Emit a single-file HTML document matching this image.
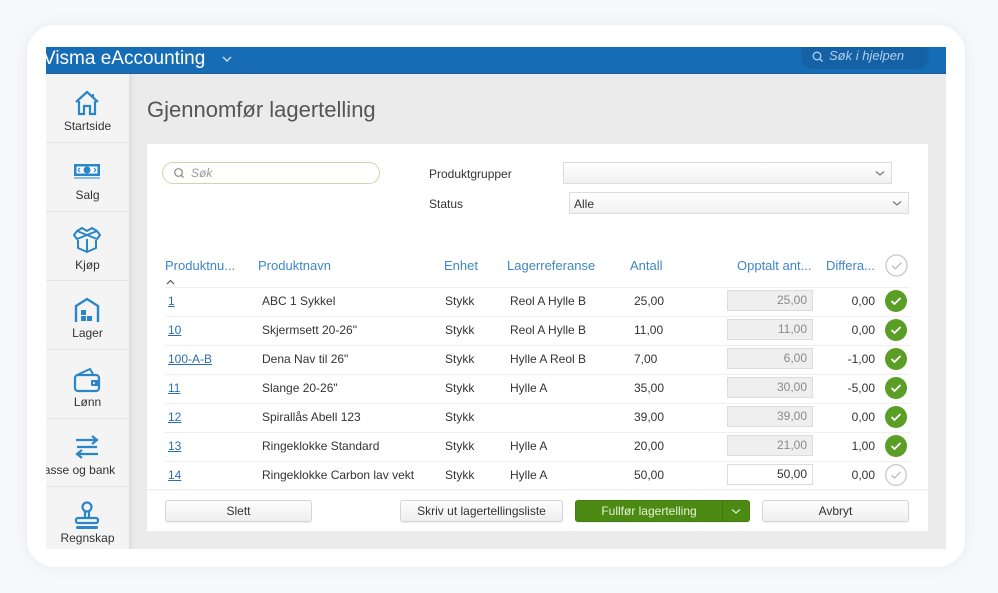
<!DOCTYPE html>
<html><head><meta charset="utf-8">
<style>
*{margin:0;padding:0;box-sizing:border-box}
body{width:998px;height:593px;background:#f6f8fb;font-family:"Liberation Sans",Arial,sans-serif;position:relative;overflow:hidden;color:#333}
.abs{position:absolute}
.card{left:27px;top:25px;width:938px;height:542px;background:#fff;border-radius:28px;box-shadow:0 0 12px rgba(200,210,225,.35)}
.app{left:46px;top:47px;width:900px;height:502px;background:#ebebeb;overflow:hidden}
.topbar{left:0;top:0;width:900px;height:27px;background:#176db5;border-bottom:1px solid #1a5f99}
.brand{left:-3px;top:1px;font-size:19px;color:#fff;white-space:nowrap}
.side{left:0;top:27px;width:83px;height:475px;background:#f4f4f4;overflow:hidden}
.sideshadow{left:83px;top:27px;width:6px;height:475px;background:linear-gradient(to right,#dedede,#ebebeb)}
.si{position:absolute;left:0;width:83px;height:69px;border-bottom:1px solid #e4e4e4}
.si .lb{position:absolute;left:-20px;width:123px;text-align:center;font-size:12px;color:#333;white-space:nowrap}
.si svg{position:absolute;left:27px}
.t{position:absolute;font-size:12px;white-space:nowrap;color:#333}
.h{color:#3f86c5;font-size:13px}
.lnk{color:#2c6fb0;text-decoration:underline}
.sep{position:absolute;left:165px;width:745px;height:1px;background:#efefef}
.inp{position:absolute;left:727px;width:86px;height:21px;background:#efefef;border:1px solid #dcdcdc;font-size:12px;color:#8a8a8a;text-align:right;padding-right:5px;line-height:19px}
.dif{position:absolute;left:820px;width:55px;text-align:right;font-size:12px;color:#333}
.btn{position:absolute;top:500px;height:22px;border:1px solid #d6d6d6;border-radius:3px;background:linear-gradient(#fdfdfd,#efefef);font-size:12px;color:#333;text-align:center;line-height:20px;box-shadow:0 1px 1px rgba(0,0,0,.08)}
</style></head><body>
<div class="abs card"></div>
<div class="abs app">
  <div class="abs topbar">
    <div class="abs brand">Visma eAccounting</div>
    <svg class="abs" style="left:176px;top:8px" width="10" height="8"><path d="M1 2 L5 6 L9 2" stroke="#cfe0f2" stroke-width="1.4" fill="none"/></svg>
    <div class="abs" style="left:197px;top:0;width:1px;height:27px;background:#1f66a6"></div>
    <div class="abs" style="left:755px;top:-4px;width:128px;height:26px;border-radius:12px;background:#1461a6"></div>
    <svg class="abs" style="left:766px;top:4px" width="12" height="12"><circle cx="5" cy="5" r="3.8" stroke="#b3cde8" stroke-width="1.3" fill="none"/><path d="M8 8 L10.5 10.5" stroke="#b3cde8" stroke-width="1.4"/></svg>
    <div class="abs" style="left:783px;top:1px;font-size:13px;font-style:italic;color:#b3cde8">Søk i hjelpen</div>
  </div>
  <div class="abs side">
    <div class="si" style="top:0">
      <svg style="top:15px" width="28" height="28" viewBox="0 0 28 28"><path d="M3 13 L14 3 L25 13" stroke="#2a86c9" stroke-width="2.2" fill="none"/><path d="M20 5 V9" stroke="#2a86c9" stroke-width="2"/><path d="M6 12 V25 H11 V17 H17 V25 H22 V12" stroke="#2a86c9" stroke-width="2.2" fill="none"/></svg>
      <div class="lb" style="top:45px">Startside</div>
    </div>
    <div class="si" style="top:69px">
      <svg style="top:20px" width="28" height="16" viewBox="0 0 28 16"><rect x="1" y="1" width="26" height="12" fill="#2a86c9"/><rect x="3.5" y="3.5" width="21" height="7" fill="#fff"/><circle cx="14" cy="7" r="3.5" fill="#2a86c9"/><path d="M5 7 L7 5 M5 7 L7 9 M23 7 L21 5 M23 7 L21 9" stroke="#2a86c9" stroke-width="1.2"/><rect x="1" y="14" width="26" height="2" fill="#8cc0e6"/></svg>
      <div class="lb" style="top:45px">Salg</div>
    </div>
    <div class="si" style="top:138px">
      <svg style="top:14px" width="28" height="28" viewBox="0 0 28 28"><path d="M14 9 L4 5 L9 2 L14 5 L19 2 L24 5 L14 9 Z" stroke="#2a86c9" stroke-width="2" fill="none" stroke-linejoin="round"/><path d="M14 9 L4 13 L1 9 L4 5 M14 9 L24 13 L27 9 L24 5" stroke="#2a86c9" stroke-width="2" fill="none" stroke-linejoin="round"/><path d="M5 14 V22 L14 26 L23 22 V14 M14 13 V26" stroke="#2a86c9" stroke-width="2" fill="none" stroke-linejoin="round"/></svg>
      <div class="lb" style="top:46px">Kjøp</div>
    </div>
    <div class="si" style="top:207px">
      <svg style="top:15px" width="28" height="28" viewBox="0 0 28 28"><path d="M3 26 V10 L14 3 L25 10 V26" stroke="#2a86c9" stroke-width="2.4" fill="none"/><rect x="8" y="14" width="5" height="5" fill="#2a86c9"/><rect x="8" y="20" width="5" height="5" fill="#2a86c9"/><rect x="14" y="20" width="5" height="5" fill="#2a86c9"/></svg>
      <div class="lb" style="top:45px">Lager</div>
    </div>
    <div class="si" style="top:276px">
      <svg style="top:17px" width="28" height="26" viewBox="0 0 28 26"><path d="M4 8 L17 2 L20 7" stroke="#2a86c9" stroke-width="2" fill="none"/><rect x="2" y="8" width="24" height="16" rx="3" stroke="#2a86c9" stroke-width="2.2" fill="none"/><rect x="18" y="13" width="8" height="6" rx="1" fill="#2a86c9"/><circle cx="21" cy="16" r="1" fill="#fff"/></svg>
      <div class="lb" style="top:45px">Lønn</div>
    </div>
    <div class="si" style="top:344px">
      <svg style="top:17px" width="28" height="24" viewBox="0 0 28 24"><path d="M3 5 H24 M19 1 L24 5 L19 9 M4 12 H24 M25 19 H4 M9 15 L4 19 L9 23" stroke="#2a86c9" stroke-width="2.2" fill="none"/></svg>
      <div class="lb" style="top:45px;left:-32px">Kasse og bank</div>
    </div>
    <div class="si" style="top:413px;border:none">
      <svg style="top:14px" width="28" height="30" viewBox="0 0 28 30"><circle cx="14" cy="6" r="4.5" stroke="#2a86c9" stroke-width="2.2" fill="none"/><path d="M12 10 V17 M16 10 V17" stroke="#2a86c9" stroke-width="2.2"/><rect x="3" y="17" width="22" height="5" rx="2" stroke="#2a86c9" stroke-width="2.2" fill="none"/><rect x="3" y="25" width="22" height="3" rx="1.5" fill="#2a86c9"/></svg>
      <div class="lb" style="top:44px">Regnskap</div>
    </div>
  </div>
  <div class="abs sideshadow"></div>
  <div class="abs" style="left:101px;top:50px;font-size:22px;color:#555;white-space:nowrap">Gjennomfør lagertelling</div>
  <div class="abs" style="left:101px;top:97px;width:781px;height:387px;background:#fff"></div>
</div>

<!-- filters -->
<div class="abs" style="left:162px;top:162px;width:218px;height:22px;border:1px solid #d6d2a6;border-radius:11px;background:#fff"></div>
<svg class="abs" style="left:173px;top:167px" width="12" height="12"><circle cx="5.5" cy="5.5" r="3.8" stroke="#888" stroke-width="1.2" fill="none"/><path d="M8.3 8.3 L10.5 10.5" stroke="#888" stroke-width="1.3"/></svg>
<div class="t" style="left:191px;top:166px;font-style:italic;color:#999">Søk</div>
<div class="t" style="left:429px;top:167px">Produktgrupper</div>
<div class="abs" style="left:563px;top:162px;width:329px;height:22px;border:1px solid #ddd;background:linear-gradient(#fff,#f1f1f1)"></div>
<svg class="abs" style="left:875px;top:170px" width="10" height="7"><path d="M1 1.5 L5 5 L9 1.5" stroke="#777" stroke-width="1.2" fill="none"/></svg>
<div class="t" style="left:429px;top:197px">Status</div>
<div class="abs" style="left:569px;top:192px;width:340px;height:22px;border:1px solid #ddd;background:linear-gradient(#fff,#f1f1f1)"></div>
<div class="t" style="left:574px;top:197px">Alle</div>
<svg class="abs" style="left:892px;top:200px" width="10" height="7"><path d="M1 1.5 L5 5 L9 1.5" stroke="#777" stroke-width="1.2" fill="none"/></svg>

<!-- table header -->
<div class="t h" style="left:165px;top:258px">Produktnu...</div>
<svg class="abs" style="left:166px;top:279px" width="9" height="6"><path d="M1 5 L4.5 1.5 L8 5" stroke="#555" stroke-width="1.2" fill="none"/></svg>
<div class="t h" style="left:258px;top:258px">Produktnavn</div>
<div class="t h" style="left:444px;top:258px">Enhet</div>
<div class="t h" style="left:507px;top:258px">Lagerreferanse</div>
<div class="t h" style="left:630px;top:258px">Antall</div>
<div class="t h" style="left:737px;top:258px">Opptalt ant...</div>
<div class="t h" style="left:826px;top:258px">Differa...</div>
<svg class="abs" style="left:885px;top:254px" width="23" height="23"><circle cx="11.5" cy="11.5" r="10.5" fill="#fff" stroke="#c8c8c8" stroke-width="1.3"/><path d="M7 11.5 L10.3 14.8 L16.5 8.5" stroke="#bbb" stroke-width="1.3" fill="none"/></svg>

<div class="sep" style="top:287px"></div>
<div class="sep" style="top:316px"></div>
<div class="sep" style="top:345px"></div>
<div class="sep" style="top:374px"></div>
<div class="sep" style="top:403px"></div>
<div class="sep" style="top:432px"></div>
<div class="sep" style="top:461px"></div>

<!-- rows -->
<div class="t lnk" style="left:168px;top:294px">1</div>
<div class="t" style="left:262px;top:294px">ABC 1 Sykkel</div>
<div class="t" style="left:445px;top:294px">Stykk</div>
<div class="t" style="left:510px;top:294px">Reol A Hylle B</div>
<div class="t" style="left:634px;top:294px">25,00</div>
<div class="inp" style="top:290px">25,00</div>
<div class="dif" style="top:294px">0,00</div>

<div class="t lnk" style="left:168px;top:323px">10</div>
<div class="t" style="left:262px;top:323px">Skjermsett 20-26"</div>
<div class="t" style="left:445px;top:323px">Stykk</div>
<div class="t" style="left:510px;top:323px">Reol A Hylle B</div>
<div class="t" style="left:634px;top:323px">11,00</div>
<div class="inp" style="top:319px">11,00</div>
<div class="dif" style="top:323px">0,00</div>

<div class="t lnk" style="left:168px;top:352px">100-A-B</div>
<div class="t" style="left:262px;top:352px">Dena Nav til 26"</div>
<div class="t" style="left:445px;top:352px">Stykk</div>
<div class="t" style="left:510px;top:352px">Hylle A Reol B</div>
<div class="t" style="left:634px;top:352px">7,00</div>
<div class="inp" style="top:348px">6,00</div>
<div class="dif" style="top:352px">-1,00</div>

<div class="t lnk" style="left:168px;top:381px">11</div>
<div class="t" style="left:262px;top:381px">Slange 20-26"</div>
<div class="t" style="left:445px;top:381px">Stykk</div>
<div class="t" style="left:510px;top:381px">Hylle A</div>
<div class="t" style="left:634px;top:381px">35,00</div>
<div class="inp" style="top:377px">30,00</div>
<div class="dif" style="top:381px">-5,00</div>

<div class="t lnk" style="left:168px;top:410px">12</div>
<div class="t" style="left:262px;top:410px">Spirallås Abell 123</div>
<div class="t" style="left:445px;top:410px">Stykk</div>
<div class="t" style="left:634px;top:410px">39,00</div>
<div class="inp" style="top:406px">39,00</div>
<div class="dif" style="top:410px">0,00</div>

<div class="t lnk" style="left:168px;top:439px">13</div>
<div class="t" style="left:262px;top:439px">Ringeklokke Standard</div>
<div class="t" style="left:445px;top:439px">Stykk</div>
<div class="t" style="left:510px;top:439px">Hylle A</div>
<div class="t" style="left:634px;top:439px">20,00</div>
<div class="inp" style="top:435px">21,00</div>
<div class="dif" style="top:439px">1,00</div>

<div class="t lnk" style="left:168px;top:468px">14</div>
<div class="t" style="left:262px;top:468px">Ringeklokke Carbon lav vekt</div>
<div class="t" style="left:445px;top:468px">Stykk</div>
<div class="t" style="left:510px;top:468px">Hylle A</div>
<div class="t" style="left:634px;top:468px">50,00</div>
<div class="inp" style="top:464px;background:#fff;color:#333">50,00</div>
<div class="dif" style="top:468px">0,00</div>

<!-- check circles -->
<svg class="abs" style="left:884px;top:289px" width="24" height="200">
  <g fill="#5a9e25">
    <circle cx="12" cy="12" r="11"/><circle cx="12" cy="41" r="11"/><circle cx="12" cy="70" r="11"/>
    <circle cx="12" cy="99" r="11"/><circle cx="12" cy="128" r="11"/><circle cx="12" cy="157" r="11"/>
  </g>
  <g stroke="#fff" stroke-width="1.8" fill="none">
    <path d="M7.5 12 L10.5 15 L16.5 9"/><path d="M7.5 41 L10.5 44 L16.5 38"/><path d="M7.5 70 L10.5 73 L16.5 67"/>
    <path d="M7.5 99 L10.5 102 L16.5 96"/><path d="M7.5 128 L10.5 131 L16.5 125"/><path d="M7.5 157 L10.5 160 L16.5 154"/>
  </g>
  <circle cx="12" cy="186" r="10.3" fill="#fff" stroke="#c8c8c8" stroke-width="1.3"/>
  <path d="M7.5 186 L10.5 189 L16.5 183" stroke="#bbb" stroke-width="1.3" fill="none"/>
</svg>

<!-- footer -->
<div class="abs" style="left:147px;top:489px;width:781px;height:2px;background:linear-gradient(#e8e8e8,#fff)"></div>
<div class="btn" style="left:165px;width:147px">Slett</div>
<div class="btn" style="left:400px;width:163px">Skriv ut lagertellingsliste</div>
<div class="btn" style="left:575px;width:175px;background:#4d8a13;border-color:#457d10;color:#e6f2d6">
  <span style="position:absolute;left:0;width:146px;text-align:center">Fullfør lagertelling</span>
  <span style="position:absolute;left:146px;top:0;width:1px;height:20px;background:#3f750d"></span>
  <svg style="position:absolute;left:155px;top:7px" width="10" height="7"><path d="M1 1.5 L5 5 L9 1.5" stroke="#d8ecc4" stroke-width="1.3" fill="none"/></svg>
</div>
<div class="btn" style="left:762px;width:147px">Avbryt</div>
</body></html>
